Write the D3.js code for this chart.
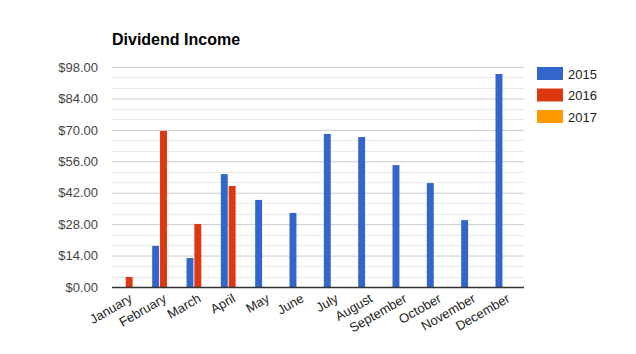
<!DOCTYPE html>
<html>
<head>
<meta charset="utf-8">
<script src="https://cdn.jsdelivr.net/npm/d3@7"></script>
<style>
    body { margin: 0; background: #fff; }
    text { font-family: "Liberation Sans", Arial, sans-serif; }
</style>
</head>
<body>
<div id="chart"></div>
<script>
const months = ['January', 'February', 'March', 'April', 'May', 'June', 'July',
    'August', 'September', 'October', 'November', 'December'];
const years = ['2015', '2016', '2017'];
const values2015 = [null, 18.3, 12.9, 50.3, 38.8, 33.0, 68.2, 66.8, 54.3, 46.3, 29.8, 94.9];
const values2016 = [4.5, 69.5, 28.1, 45.0, null, null, null, null, null, null, null, null];
const values2017 = [null, null, null, null, null, null, null, null, null, null, null, null];
const yTicks = [0, 14, 28, 42, 56, 70, 84, 98];

const color = ['#3366cc', '#dc3912', '#ff9900'];

let width = 636;
let height = 354;
let margin = {top: 67, right: 112, bottom: 67, left: 112};

let svg = d3.select('#chart')
    .append('svg')
    .attr('width', width)
    .attr('height', height);

let plotW = width - margin.left - margin.right;
let plotH = height - margin.top - margin.bottom;

let chart = svg.append('g')
    .attr('transform', `translate(${margin.left},${margin.top})`);

let series = [values2015, values2016, values2017];
let data = months.map((m, i) => ({month: m, vals: series.map(s => s[i])}));

// scales
let xScale = d3.scaleBand().domain(months).range([0, plotW]).paddingInner(0.34).paddingOuter(0.17);
let xInner = d3.scaleBand().domain(years).range([0, xScale.bandwidth()]).paddingInner(0.12);
let yScale = d3.scaleLinear().domain([0, 98]).range([plotH, 0]);

// minor gridlines
let minor = d3.range(0, 98.01, 14 / 3).filter(v => Math.abs(v / 14 - Math.round(v / 14)) > 0.01);
chart.append('g')
    .selectAll('line')
    .data(minor)
    .enter()
    .append('line')
    .attr('x1', 0)
    .attr('x2', plotW)
    .attr('y1', d => Math.round(yScale(d)) + 0.5)
    .attr('y2', d => Math.round(yScale(d)) + 0.5)
    .attr('stroke', '#ebebeb');

// y axis with major gridlines
let yAxis = chart.append('g')
    .call(d3.axisLeft(yScale).tickValues(yTicks).tickSize(-plotW).tickPadding(14)
        .tickFormat(d => '$' + d.toFixed(2)));
yAxis.select('.domain').remove();
yAxis.selectAll('.tick line').attr('stroke', '#cccccc');
yAxis.selectAll('.tick text')
    .attr('fill', '#444')
    .style('font-size', '13px');

// bars
let groups = chart.selectAll('.group')
    .data(data)
    .enter()
    .append('g')
    .attr('class', 'group')
    .attr('transform', d => `translate(${xScale(d.month)},0)`);

groups.selectAll('rect')
    .data(d => d.vals.map((v, i) => ({year: years[i], value: v, i: i})).filter(e => e.value != null))
    .enter()
    .append('rect')
    .attr('x', d => xInner(d.year))
    .attr('width', xInner.bandwidth())
    .attr('y', d => yScale(d.value))
    .attr('height', d => plotH - yScale(d.value))
    .attr('fill', d => color[d.i]);

// baseline
chart.append('line')
    .attr('x1', 0)
    .attr('x2', plotW)
    .attr('y1', plotH + 0.5)
    .attr('y2', plotH + 0.5)
    .attr('stroke', '#333')
    .attr('stroke-width', 1.5);

// x axis
let xAxis = chart.append('g')
    .attr('transform', `translate(0,${plotH})`)
    .call(d3.axisBottom(xScale).tickSize(0).tickPadding(0));
xAxis.select('.domain').remove();
xAxis.selectAll('.tick text')
    .attr('fill', '#222')
    .style('font-size', '13px')
    .attr('text-anchor', 'end')
    .attr('dy', 0)
    .attr('transform', 'translate(4,14) rotate(-30)');

// title
svg.append('text')
    .attr('x', 112)
    .attr('y', 45)
    .style('font-size', '16px')
    .style('font-weight', 'bold')
    .attr('fill', '#000')
    .text('Dividend Income');

// legend
let legend = svg.append('g')
    .attr('transform', 'translate(537,67)');
let items = legend.selectAll('g')
    .data(years)
    .enter()
    .append('g')
    .attr('transform', (d, i) => `translate(0,${i * 21.5})`);
items.append('rect')
    .attr('width', 26)
    .attr('height', 13)
    .attr('fill', (d, i) => color[i]);
items.append('text')
    .attr('x', 31)
    .attr('y', 11.5)
    .style('font-size', '13px')
    .attr('fill', '#222')
    .text(d => d);
</script>
</body>
</html>
